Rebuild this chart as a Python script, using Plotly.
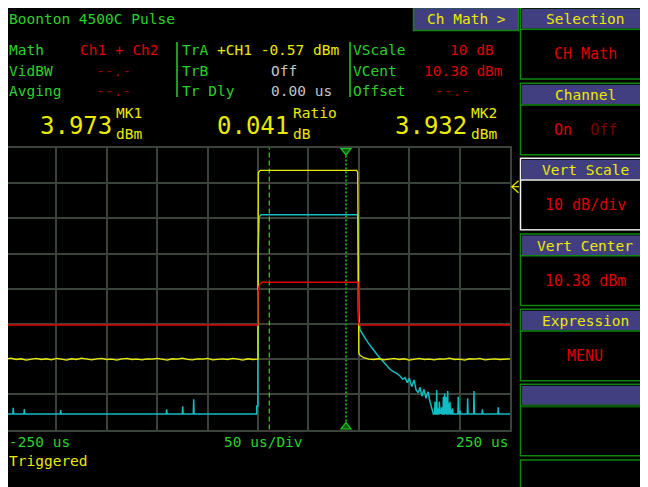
import numpy as np
import plotly.graph_objects as go

# figure fills the 648x487 window minus the page's 8px body margin
W, H = 640, 479
MONO = "DejaVu Sans Mono"

# ---------------- data ----------------
t_min, t_max, t_div = -250, 250, 50          # us
v_center, v_div = 10.38, 10                  # dBm, dB/div
n_vdiv = 8

# Yellow trace (Ch1): noisy floor, pulse, floor
yel_pre_start, yel_step = -250, 5
yel_pre = [-9.6, -9.3, -9.7, -9.5, -9.9, -9.6, -9.4, -9.7, -9.5, -9.8,
           -9.4, -9.6, -9.9, -9.5, -9.7, -9.3, -9.6, -9.8, -9.5, -9.4,
           -9.7, -9.6, -9.9, -9.5, -9.4, -9.7, -9.6, -9.8, -9.5, -9.6,
           -9.4, -9.7, -9.9, -9.5, -9.6, -9.3, -9.7, -9.8, -9.5, -9.6,
           -9.4, -9.8, -9.6, -9.5, -9.7, -9.4, -9.6, -9.9, -9.5, -9.7,
           -9.6]
yel_pulse_t = [0.3, 2.3, 97.9, 98.9, 100.0, 101.5, 105.0, 110.0]
yel_pulse_v = [43.42, 44.04, 44.04, 43.4, -8.0, -8.6, -9.2, -9.6]
yel_post_start = 115
yel_post = [-9.7, -9.5, -9.8, -9.6, -9.4, -9.7, -9.5, -9.9, -9.6, -9.4,
            -9.7, -9.6, -9.8, -9.5, -9.6, -9.3, -9.7, -9.6, -9.9, -9.5,
            -9.6, -9.4, -9.8, -9.6, -9.5, -9.7, -9.6, -9.5]

# Cyan trace (Ch2)
cyan_floor = -25.19
cyan_pre_spike_t = [-242.8, -231.8, -195.7, -90.6, -74.7, -63.8]
cyan_pre_spike_v = [-23.40, -23.77, -24.05, -23.85, -23.0, -21.01]
cyan_pulse_t = [-1.3, -1.2, -0.1, 0.0, 1.3, 3.0, 98.9, 99.3, 99.6]
cyan_pulse_v = [-25.19, -22.9, -22.9, 19.5, 30.86, 31.43, 31.43, 20.5, 3.9]
cyan_decay_t = [101.2, 104.5, 107.8, 111.1, 114.4, 117.7, 121.0, 124.3, 127.7, 131.0,
                134.3, 137.6, 140.9, 143.5, 145.8, 148.2, 150.1, 152.5, 154.8, 156.8,
                159.1, 160.7, 162.7, 164.7, 166.7, 168.7, 170.6, 172.6, 174.0]
cyan_decay_v = [-1.32, -3.02, -4.35, -5.68, -7.00, -8.14, -9.27, -10.41, -11.55, -12.49,
                -13.16, -13.63, -14.39, -15.34, -14.86, -16.28, -15.05, -17.42, -15.53, -18.37,
                -19.12, -17.61, -20.07, -18.18, -20.73, -18.84, -21.68, -23.57, -25.19]
cyan_post_spike_t = [175.6, 177.3, 178.9, 179.9, 181.2, 182.2, 183.9, 185.2, 186.5, 188.2,
                     189.5, 190.5, 192.1, 193.1, 198.7, 200.4, 208.0, 214.3, 222.6, 238.4]
cyan_post_spike_v = [-21.68, -18.37, -23.57, -21.68, -24.05, -23.29, -20.26, -19.31, -20.26, -18.65,
                     -22.15, -21.68, -23.86, -23.57, -20.26, -24.24, -20.73, -18.65, -23.86, -23.29]

# Red trace (Math = Ch1 + Ch2)
red_t = [-250, -0.2, 0.0, 1.7, 4.0, 99.2, 99.6, 100.6, 250]
red_v = [0.1, 0.1, 9.56, 11.66, 12.23, 12.23, 1.03, 0.1, 0.1]

# Markers
mk1_t, mk2_t = 11.2, 87.3

# Texts
title = "Boonton 4500C Pulse"
info_left = [("Math", "Ch1 + Ch2"), ("VidBW", "--.-"), ("Avging", "--.-")]
info_mid = [("TrA", "+CH1 -0.57 dBm"), ("TrB", "Off"), ("Tr Dly", "0.00 us")]
info_right = [("VScale", "10 dB"), ("VCent", "10.38 dBm"), ("Offset", "--.-")]
mk_values = ["3.973", "0.041", "3.932"]
mk_names = ["MK1", "Ratio", "MK2"]
mk_units = ["dBm", "dB", "dBm"]
x_labels = ["-250 us", "50 us/Div", "250 us"]
status = "Triggered"
menu_button = "Ch Math >"
menu_titles = ["Selection", "Channel", "Vert Scale", "Vert Center", "Expression", "", None]
menu_values = ["CH Math", "On  <span style='color:#7a0000'>Off</span>", "10 dB/div",
               "10.38 dBm", "MENU", "", ""]

# ---------------- build series ----------------
yel_t = list(yel_pre_start + yel_step * np.arange(len(yel_pre))) + yel_pulse_t + \
        list(yel_post_start + yel_step * np.arange(len(yel_post)))
yel_v = yel_pre + yel_pulse_v + yel_post

def spikes(ts, vs, floor, w=0.4):
    ox, oy = [], []
    for t, v in zip(ts, vs):
        ox += [t - w, t, t + w]
        oy += [floor, v, floor]
    return ox, oy

cx, cy = [t_min], [cyan_floor]
sx, sy = spikes(cyan_pre_spike_t, cyan_pre_spike_v, cyan_floor)
cx += sx; cy += sy
cx += cyan_pulse_t; cy += cyan_pulse_v
cx += cyan_decay_t; cy += cyan_decay_v
sx, sy = spikes(cyan_post_spike_t, cyan_post_spike_v, cyan_floor)
cx += sx; cy += sy
cx += [t_max]; cy += [cyan_floor]

v_lo = v_center - v_div * n_vdiv / 2
v_hi = v_center + v_div * n_vdiv / 2

# ---------------- colours ----------------
GRID = "#394339"
GREEN = "#2ad02a"
RED = "#dd0000"
DRED = "#9a0000"
YEL = "#eaea00"
GREY = "#c4c4c4"
PURPLE = "#423f80"
BOXG = "#0b880b"
WHITE = "#f2f2f2"

# ---------------- geometry (page pixels; figure sits 8px in from page corner) ----------------
OX, OY = 8, 8
PX0, PX1, PY0, PY1 = 6, 510, 148, 429.6
x_start_px = max(PX0, OX)
t_lo_vis = t_min + (x_start_px - PX0) * (t_max - t_min) / (PX1 - PX0)

def fx(x):
    return (x - OX) / W

def fy(y):
    return 1 - (y - OY) / H

shapes, ann = [], []

def rect(x0, y0, x1, y1, fill=None, line=None, lw=1.5, layer="below"):
    shapes.append(dict(type="rect", xref="paper", yref="paper",
                       x0=fx(x0), x1=fx(x1), y0=fy(y1), y1=fy(y0),
                       fillcolor=fill if fill else "rgba(0,0,0,0)",
                       line=dict(color=line if line else "rgba(0,0,0,0)", width=lw if line else 0),
                       layer=layer))

def seg(x0, y0, x1, y1, color, lw=1.5):
    shapes.append(dict(type="line", xref="paper", yref="paper",
                       x0=fx(x0), x1=fx(x1), y0=fy(y0), y1=fy(y1),
                       line=dict(color=color, width=lw), layer="above"))

def path(pts, color, fill=None, closed=True, lw=1.5):
    d = "M " + " L ".join(f"{fx(x):.5f},{fy(y):.5f}" for x, y in pts)
    if closed:
        d += " Z"
    shapes.append(dict(type="path", xref="paper", yref="paper", path=d,
                       line=dict(color=color, width=lw),
                       fillcolor=fill if fill else "rgba(0,0,0,0)", layer="above"))

def txt(s, x, y, color, size=14, anchor="left"):
    ann.append(dict(text=s, x=fx(x), y=fy(y), xref="paper", yref="paper",
                    xanchor=anchor, yanchor="middle", showarrow=False, borderpad=0,
                    font=dict(family=MONO, size=size, color=color)))

# header
txt(title, 8, 19, GREEN, 14.5)
rect(413.5, 7.5, 518.5, 30.5, fill=PURPLE, line=BOXG)
txt(menu_button, 466, 19, YEL, 14.5, "center")

rows_y = [50, 70.5, 91]
left_val_x = [79, 113, 113]
for i, (lab, val) in enumerate(info_left):
    txt(lab, 8, rows_y[i], GREEN, 14.5)
    if i == 0:
        txt(val, left_val_x[i], rows_y[i], RED, 14.5)
    else:
        txt(val, left_val_x[i], rows_y[i], DRED, 14.5, "center")
seg(177, 42, 177, 97, GREEN, 1.5)
for i, (lab, val) in enumerate(info_mid):
    txt(lab, 181, rows_y[i], GREEN, 14.5)
    if i == 0:
        txt(val, 216, rows_y[i], YEL, 14.5)
    else:
        txt(val, 270, rows_y[i], GREY, 14.5)
seg(350, 42, 350, 97, GREEN, 1.5)
right_val = [(495, "right", RED), (504, "right", RED), (452, "center", DRED)]
for i, (lab, val) in enumerate(info_right):
    txt(lab, 352, rows_y[i], GREEN, 14.5)
    xx, anc, col = right_val[i]
    txt(val, xx, rows_y[i], col, 14.5, anc)

# marker readouts
mk_x = [113, 290, 468]
for i in range(3):
    txt(mk_values[i], mk_x[i], 126, YEL, 24, "right")
    txt(mk_names[i], mk_x[i] + 2, 112.5, YEL, 14.5)
    txt(mk_units[i], mk_x[i] + 2, 133.5, YEL, 14.5)

# bottom labels
txt(x_labels[0], 8, 441.5, GREEN, 14.5)
txt(x_labels[1], 223, 441.5, GREEN, 14.5)
txt(x_labels[2], 509, 441.5, GREEN, 14.5, "right")
txt(status, 8, 461, YEL, 14.5)

# right menu panel (boxes run off the right edge)
tops = [7.5, 83.3, 158.3, 234.0, 309.3, 384.3, 460.0]
RX = 660
for i, top in enumerate(tops):
    col = WHITE if i == 2 else BOXG
    bottom = top + 71.5 if i < len(tops) - 1 else 500
    rect(520.5, top, RX, bottom, line=col, lw=1.5)
    if menu_titles[i] is not None:
        rect(522, top + 1.5, RX, top + 21, fill=PURPLE)
        seg(521, top + 21.8, RX, top + 21.8, col if i != 5 else "#0a5a0a", 1.5 if i != 5 else 3)
        if menu_titles[i]:
            txt(menu_titles[i], 585, top + 11.5, YEL, 14.5, "center")
        if menu_values[i]:
            txt(menu_values[i], 585, top + 46.5, RED, 15, "center")
seg(521, 230.2, RX, 230.2, "#8a8a8a", 1)

# reference arrow at right of graticule
path([(518.5, 180.7), (511.8, 186.7), (518.5, 192.7)], YEL, closed=False, lw=1.2)
seg(511.8, 186.7, 519, 186.7, YEL, 1.2)

# marker 2 triangles
path([(341, 148.5), (351, 148.5), (346, 155)], "#22cc22", fill="#0a600a", lw=1.2)
path([(341, 429), (351, 429), (346, 422.5)], "#22cc22", fill="#0a600a", lw=1.2)

# ---------------- figure ----------------
fig = go.Figure()
fig.add_trace(go.Scatter(x=[mk1_t, mk1_t], y=[v_lo, v_hi], mode="lines",
                         line=dict(color="#22dd22", width=1.2, dash="5px,3px"), hoverinfo="skip"))
fig.add_trace(go.Scatter(x=[mk2_t, mk2_t], y=[v_lo, v_hi], mode="lines",
                         line=dict(color="#00a000", width=2, dash="2px,2px"), hoverinfo="skip"))
fig.add_trace(go.Scatter(x=cx, y=cy, mode="lines", name="Ch2",
                         line=dict(color="#12bcc4", width=1.5)))
fig.add_trace(go.Scatter(x=yel_t, y=yel_v, mode="lines", name="Ch1",
                         line=dict(color=YEL, width=1.3)))
fig.add_trace(go.Scatter(x=red_t, y=red_v, mode="lines", name="Math",
                         line=dict(color="#e00000", width=1.5)))

fig.update_layout(
    width=W, height=H, margin=dict(l=0, r=0, t=0, b=0),
    paper_bgcolor="black", plot_bgcolor="black", showlegend=False,
    xaxis=dict(domain=[fx(x_start_px), fx(PX1)], range=[t_lo_vis, t_max], tick0=t_min, dtick=t_div,
               showgrid=True, gridcolor=GRID, gridwidth=1.5, zeroline=False,
               showline=True, mirror=True, linecolor=GRID, linewidth=1.5,
               showticklabels=False, ticks="", fixedrange=True),
    yaxis=dict(domain=[fy(PY1), fy(PY0)], range=[v_lo, v_hi], tick0=v_lo, dtick=v_div,
               showgrid=True, gridcolor=GRID, gridwidth=1.5, zeroline=False,
               showline=True, mirror=True, linecolor=GRID, linewidth=1.5,
               showticklabels=False, ticks="", fixedrange=True),
    shapes=shapes, annotations=ann,
)
fig.write_html("out.html")
